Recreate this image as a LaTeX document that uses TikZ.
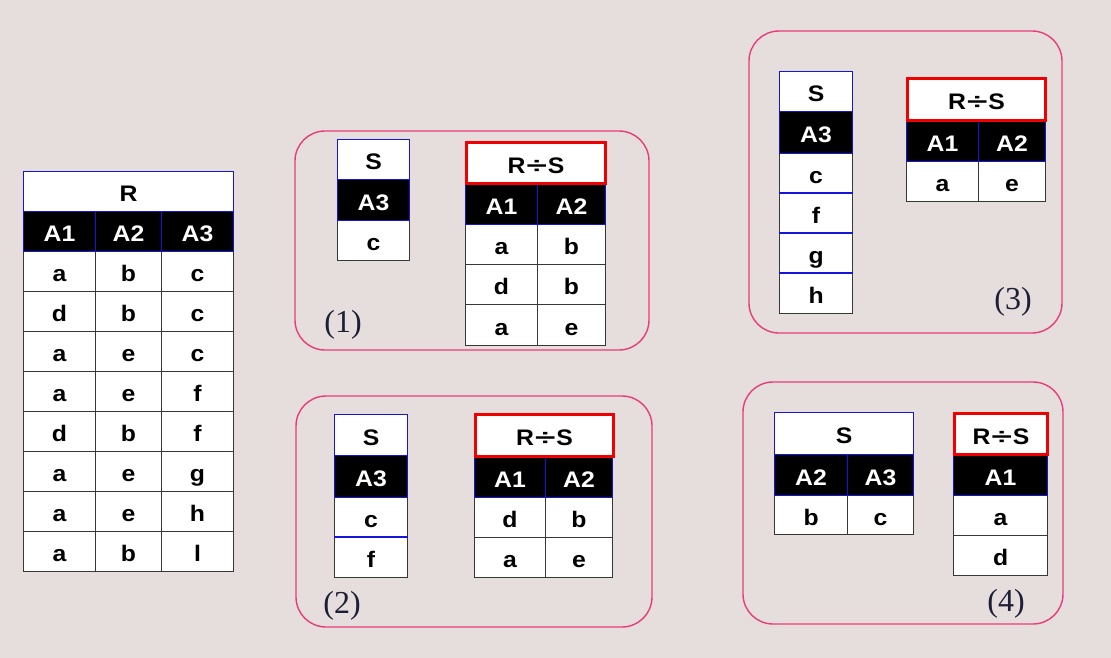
\documentclass[tikz,border=0pt]{standalone}
\usepackage{fontspec}
\usepackage{graphicx}
\setmainfont{Liberation Serif}
\newfontfamily\tabfont[FakeStretch=1.1]{Liberation Sans}
\definecolor{bgc}{RGB}{230,221,221}
\definecolor{cellgray}{RGB}{55,55,55}
\definecolor{hdrblue}{RGB}{20,20,220}
\definecolor{panelpink}{RGB}{230,60,122}
\definecolor{lblnavy}{RGB}{30,30,55}
\definecolor{boxred}{RGB}{240,0,0}
\newcommand\C[7]{\pgfmathsetmacro\cw{#5-#3}\pgfmathsetmacro\ch{#6-#4}%
  \node[#2,minimum width=\cw pt,minimum height=\ch pt,anchor=north west] (#1) at (#3,#4) {#7};}
\newcommand\RdS{R\kern1pt\scalebox{1.5}[1]{÷}\kern1pt S}
\begin{document}
\begin{tikzpicture}[x=1pt,y=-1pt,
  dcell/.style={draw=cellgray, fill=white, line width=1.1pt, inner sep=0pt,
     text height=20pt, text depth=0pt,
     font=\tabfont\bfseries\fontsize{22.5}{25}\selectfont, text=black},
  hcell/.style={dcell, draw=hdrblue, fill=black, text=white},
  tcell/.style={dcell, draw=hdrblue},
  rcell/.style={dcell, draw=boxred, line width=3pt},
  panel/.style={draw=panelpink, line width=1.4pt, rounded corners=30pt},
  lbl/.style={font=\fontsize{32}{36}\selectfont, text=lblnavy, inner sep=0pt},
  bline/.style={draw=hdrblue, line width=1.1pt}]
\fill[bgc] (0,0) rectangle (1111,658);
\useasboundingbox (0,0) rectangle (1111,658);

% ---------- table R ----------
\foreach [count=\i from 0] \a/\b/\c in {a/b/c,d/b/c,a/e/c,a/e/f,d/b/f,a/e/g,a/e/h,a/b/l}{%
  \pgfmathtruncatemacro\yt{251+40*\i}\pgfmathtruncatemacro\yb{291+40*\i}%
  \C{R-\i-1}{dcell}{23}{\yt}{95}{\yb}{\a}
  \C{R-\i-2}{dcell}{95}{\yt}{161}{\yb}{\b}
  \C{R-\i-3}{dcell}{161}{\yt}{233}{\yb}{\c}
}
\C{R-h1}{hcell}{23}{211}{95}{251}{A1}
\C{R-h2}{hcell}{95}{211}{161}{251}{A2}
\C{R-h3}{hcell}{161}{211}{233}{251}{A3}
\C{R-t}{tcell}{23}{171}{233}{211}{R}

% ---------- panel (1) ----------
\draw[panel] (295,131) rectangle (649,350);
\C{S1-d1}{dcell}{337}{220}{409}{260}{c}
\C{S1-h}{hcell}{337}{179}{409}{220}{A3}
\C{S1-t}{tcell}{337}{139}{409}{179}{S}
\C{Q1-d1a}{dcell}{465}{224}{537}{264}{a}
\C{Q1-d1b}{dcell}{537}{224}{605}{264}{b}
\C{Q1-d2a}{dcell}{465}{264}{537}{304}{d}
\C{Q1-d2b}{dcell}{537}{264}{605}{304}{b}
\C{Q1-d3a}{dcell}{465}{304}{537}{345}{a}
\C{Q1-d3b}{dcell}{537}{304}{605}{345}{e}
\C{Q1-h1}{hcell}{465}{183}{537}{224}{A1}
\C{Q1-h2}{hcell}{537}{183}{605}{224}{A2}
\C{Q1-t}{rcell}{465}{141}{604}{182}{\RdS}
\node[lbl] (L1) at (343,325) {(1)};

% ---------- panel (2) ----------
\draw[panel] (296,396) rectangle (652,627);
\C{S2-d1}{dcell}{334}{497}{407}{537}{c}
\C{S2-d2}{dcell}{334}{537}{407}{577}{f}
\draw[bline] (S2-d2.north west) -- (S2-d2.north east);
\C{S2-h}{hcell}{334}{455}{407}{497}{A3}
\C{S2-t}{tcell}{334}{414}{407}{455}{S}
\C{Q2-d1a}{dcell}{474}{497}{545}{537}{d}
\C{Q2-d1b}{dcell}{545}{497}{612}{537}{b}
\C{Q2-d2a}{dcell}{474}{537}{545}{577}{a}
\C{Q2-d2b}{dcell}{545}{537}{612}{577}{e}
\C{Q2-h1}{hcell}{474}{456}{545}{497}{A1}
\C{Q2-h2}{hcell}{545}{456}{612}{497}{A2}
\C{Q2-t}{rcell}{474}{413}{612}{455}{\RdS}
\node[lbl] (L2) at (342,606) {(2)};

% ---------- panel (3) ----------
\draw[panel] (749,31) rectangle (1062,333);
\C{S3-d1}{dcell}{779}{153}{852}{193}{c}
\C{S3-d2}{dcell}{779}{193}{852}{233}{f}
\C{S3-d3}{dcell}{779}{233}{852}{273}{g}
\C{S3-d4}{dcell}{779}{273}{852}{313}{h}
\draw[bline] (S3-d2.north west) -- (S3-d2.north east);
\draw[bline] (S3-d3.north west) -- (S3-d3.north east);
\draw[bline] (S3-d4.north west) -- (S3-d4.north east);
\C{S3-h}{hcell}{779}{111}{852}{153}{A3}
\C{S3-t}{tcell}{779}{71}{852}{111}{S}
\C{Q3-d1a}{dcell}{906}{161}{978}{201}{a}
\C{Q3-d1b}{dcell}{978}{161}{1045}{201}{e}
\C{Q3-h1}{hcell}{906}{120}{978}{161}{A1}
\C{Q3-h2}{hcell}{978}{120}{1045}{161}{A2}
\C{Q3-t}{rcell}{906}{77}{1044}{119}{\RdS}
\node[lbl] (L3) at (1013,302) {(3)};

% ---------- panel (4) ----------
\draw[panel] (743,382) rectangle (1063,624);
\C{S4-d1}{dcell}{774}{495}{847}{534}{b}
\C{S4-d2}{dcell}{847}{495}{913}{534}{c}
\C{S4-h1}{hcell}{774}{454}{847}{495}{A2}
\C{S4-h2}{hcell}{847}{454}{913}{495}{A3}
\C{S4-t}{tcell}{774}{412}{913}{454}{S}
\C{Q4-d1}{dcell}{953}{495}{1047}{535}{a}
\C{Q4-d2}{dcell}{953}{535}{1047}{575}{d}
\C{Q4-h1}{hcell}{953}{454}{1047}{495}{A1}
\C{Q4-t}{rcell}{953}{412}{1046}{453}{\RdS}
\node[lbl] (L4) at (1006,604) {(4)};
\end{tikzpicture}
\end{document}
